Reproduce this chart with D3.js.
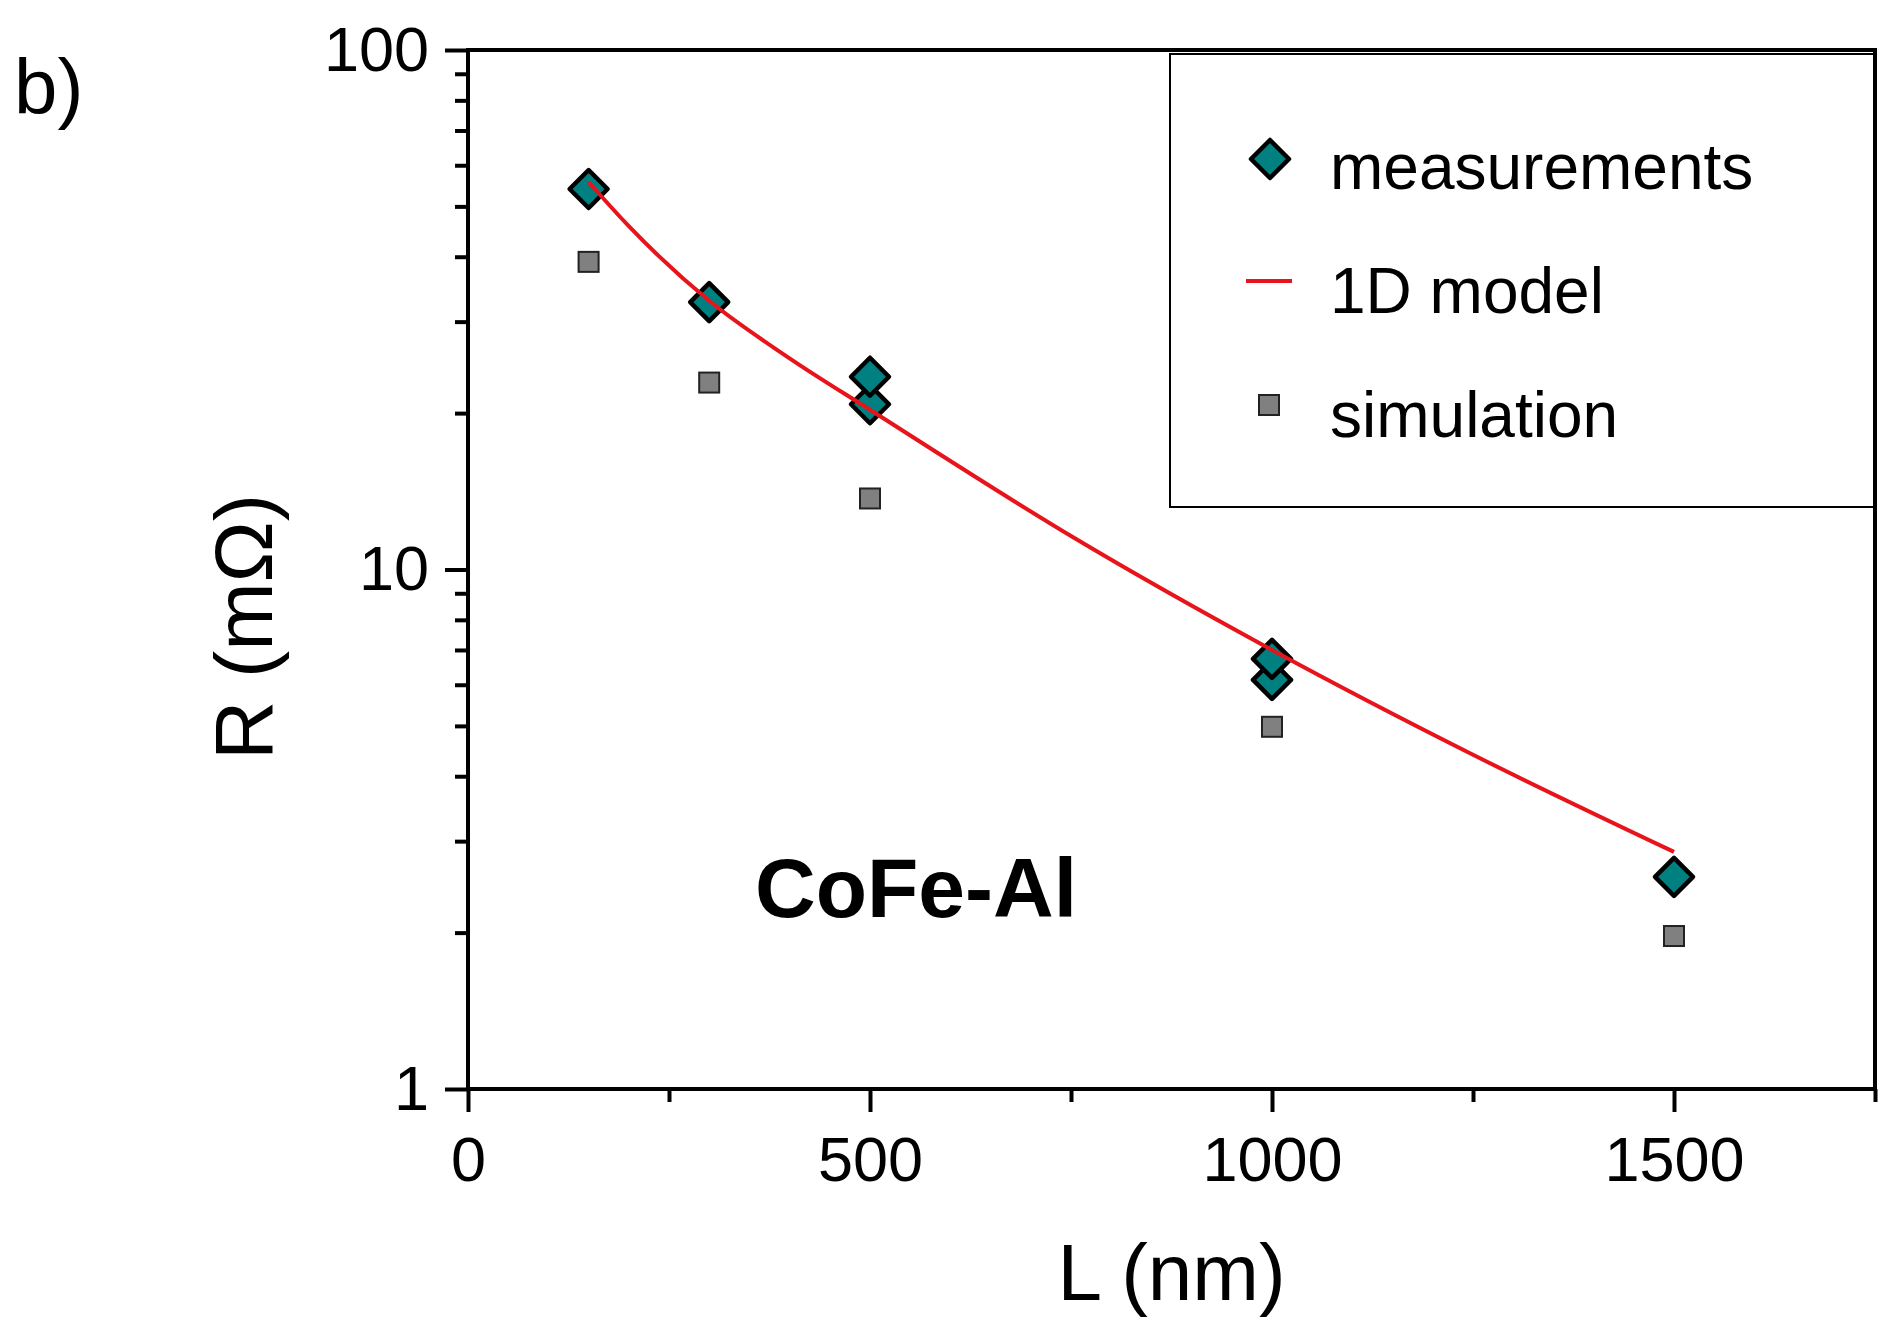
<!DOCTYPE html>
<html>
<head>
<meta charset="utf-8">
<script src="https://cdn.jsdelivr.net/npm/d3@7"></script>
<style>
  html, body { margin: 0; padding: 0; background: #fff; }
  text { font-family: "Liberation Sans", Arial, sans-serif; fill: #000; }
</style>
</head>
<body>
<div id="chart"></div>
<script>
// measured resistance (two devices at 500 and 1000 nm)
const measLengths = [150, 300, 500, 500, 1000, 1000, 1500];
const measured = [54, 32.7, 20.8, 23.5, 6.13, 6.73, 2.56];

// simulation
const simLengths = [150, 300, 500, 1000, 1500];
const simulated = [39.1, 22.9, 13.7, 4.98, 1.97];

// 1D model curve
const modelLengths = [150, 200, 300, 400, 500, 750, 1000, 1250, 1500];
const modelR = [55.7, 45.8, 32.9, 25.5, 20.3, 11.6, 7.0, 4.4, 2.86];

const xMajor = [0, 500, 1000, 1500];
const xMinor = [250, 750, 1250, 1750];
const yMajor = [1, 10, 100];
const yMinor = [2, 3, 4, 5, 6, 7, 8, 9, 20, 30, 40, 50, 60, 70, 80, 90];

const legendItems = ["measurements", "1D model", "simulation"];

const width = 1888, height = 1320;
const plot = { left: 468, right: 1875, top: 50, bottom: 1089 };

const teal = "#008080", red = "#e8141b", grey = "#808080";

const svg = d3.select("#chart").append("svg")
  .attr("width", width)
  .attr("height", height);

const x = d3.scaleLinear().domain([0, 1750]).range([plot.left, plot.right]);
const y = d3.scaleLog().domain([1, 100]).range([plot.bottom, plot.top]);

// axes: major + minor ticks, labels on majors only
function styleAxis(sel) {
  sel.select(".domain").remove();
  sel.selectAll(".tick line").attr("stroke", "#000").attr("stroke-width", 4);
  sel.selectAll(".tick text").attr("font-size", 63).attr("fill", "#000");
}

svg.append("g")
  .attr("transform", `translate(0,${plot.bottom})`)
  .call(d3.axisBottom(x).tickValues(xMinor).tickSize(13).tickFormat(""))
  .call(styleAxis);

svg.append("g")
  .attr("transform", `translate(0,${plot.bottom})`)
  .call(d3.axisBottom(x).tickValues(xMajor).tickSize(23).tickPadding(20).tickFormat(d3.format("d")))
  .call(styleAxis)
  .selectAll(".tick text").attr("dy", "0.78em");

svg.append("g")
  .attr("transform", `translate(${plot.left},0)`)
  .call(d3.axisLeft(y).tickValues(yMinor).tickSize(13).tickFormat(""))
  .call(styleAxis);

svg.append("g")
  .attr("transform", `translate(${plot.left},0)`)
  .call(d3.axisLeft(y).tickValues(yMajor).tickSize(23).tickPadding(16).tickFormat(d3.format("d")))
  .call(styleAxis);

// frame
svg.append("rect")
  .attr("x", plot.left).attr("y", plot.top)
  .attr("width", plot.right - plot.left).attr("height", plot.bottom - plot.top)
  .attr("fill", "none").attr("stroke", "#000").attr("stroke-width", 4);

// legend box sits just under the top axis and against the right axis
const lg = { x: 1170, y: 54, w: plot.right - 1170, h: 453 };
svg.append("rect")
  .attr("x", lg.x).attr("y", lg.y).attr("width", lg.w).attr("height", lg.h)
  .attr("fill", "#fff").attr("stroke", "#000").attr("stroke-width", 2);
svg.append("line")
  .attr("x1", plot.right).attr("x2", plot.right)
  .attr("y1", plot.top).attr("y2", plot.bottom)
  .attr("stroke", "#000").attr("stroke-width", 4);

const diamond = r => `M0,${-r}L${r},0L0,${r}L${-r},0Z`;

// simulation squares
svg.append("g").selectAll("rect")
  .data(simLengths.map((L, i) => [L, simulated[i]]))
  .join("rect")
  .attr("x", d => x(d[0]) - 10)
  .attr("y", d => y(d[1]) - 10)
  .attr("width", 20).attr("height", 20)
  .attr("fill", grey).attr("stroke", "#222").attr("stroke-width", 2);

// measurement diamonds
svg.append("g").selectAll("path")
  .data(measLengths.map((L, i) => [L, measured[i]]))
  .join("path")
  .attr("transform", d => `translate(${x(d[0])},${y(d[1])})`)
  .attr("d", diamond(19))
  .attr("fill", teal).attr("stroke", "#000").attr("stroke-width", 4.5)
  .attr("stroke-linejoin", "round");

// 1D model, drawn over the markers
svg.append("path")
  .datum(modelLengths.map((L, i) => [L, modelR[i]]))
  .attr("d", d3.line().x(d => x(d[0])).y(d => y(d[1])).curve(d3.curveMonotoneX))
  .attr("fill", "none").attr("stroke", red).attr("stroke-width", 4);

// legend entries
const rowY = [159, 281, 405];
const textY = [189, 313, 437];
svg.append("path")
  .attr("transform", `translate(1270,${rowY[0]})`)
  .attr("d", diamond(19))
  .attr("fill", teal).attr("stroke", "#000").attr("stroke-width", 4.5)
  .attr("stroke-linejoin", "round");
svg.append("line")
  .attr("x1", 1246).attr("x2", 1292).attr("y1", rowY[1]).attr("y2", rowY[1])
  .attr("stroke", red).attr("stroke-width", 4);
svg.append("rect")
  .attr("x", 1259).attr("y", rowY[2] - 10).attr("width", 20).attr("height", 20)
  .attr("fill", grey).attr("stroke", "#222").attr("stroke-width", 2);
svg.append("g").selectAll("text")
  .data(legendItems)
  .join("text")
  .attr("x", 1330)
  .attr("y", (d, i) => textY[i])
  .attr("font-size", 64)
  .text(d => d);

// annotations and axis titles
svg.append("text")
  .attr("x", 755).attr("y", 917)
  .attr("font-size", 84).attr("font-weight", "bold")
  .text("CoFe-Al");

svg.append("text")
  .attr("x", 14).attr("y", 114)
  .attr("font-size", 78)
  .text("b)");

svg.append("text")
  .attr("x", (plot.left + plot.right) / 2).attr("y", 1300)
  .attr("text-anchor", "middle")
  .attr("font-size", 80)
  .text("L (nm)");

svg.append("text")
  .attr("transform", "translate(272,627) rotate(-90)")
  .attr("text-anchor", "middle")
  .attr("font-size", 82)
  .text("R (mΩ)");
</script>
</body>
</html>
